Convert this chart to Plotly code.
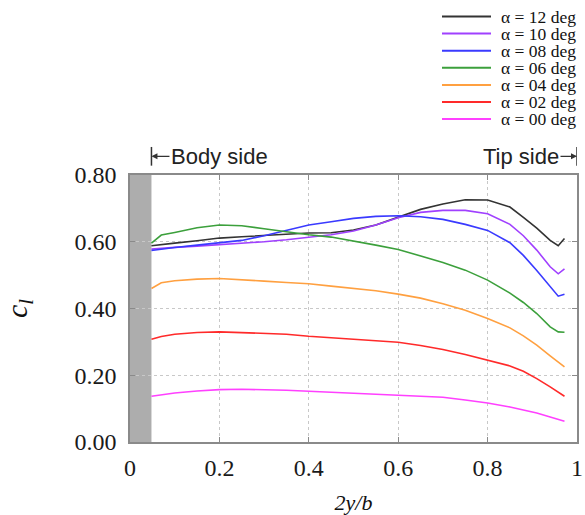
import plotly.graph_objects as go

span = [0.048, 0.07, 0.1, 0.15, 0.2, 0.25, 0.3, 0.35, 0.4, 0.45, 0.5, 0.55,
        0.6, 0.65, 0.7, 0.75, 0.8, 0.85, 0.88, 0.91, 0.94, 0.958, 0.972]

cl_12 = [0.588, 0.592, 0.596, 0.603, 0.611, 0.615, 0.619, 0.624, 0.626, 0.627, 0.635, 0.650,
         0.673, 0.697, 0.713, 0.726, 0.725, 0.704, 0.673, 0.641, 0.604, 0.588, 0.610]
cl_10 = [0.578, 0.581, 0.583, 0.587, 0.591, 0.596, 0.600, 0.606, 0.613, 0.621, 0.632, 0.650,
         0.672, 0.688, 0.694, 0.694, 0.684, 0.652, 0.618, 0.575, 0.525, 0.504, 0.519]
cl_08 = [0.574, 0.578, 0.583, 0.590, 0.596, 0.604, 0.618, 0.635, 0.650, 0.660, 0.670, 0.676,
         0.678, 0.675, 0.667, 0.652, 0.634, 0.597, 0.559, 0.514, 0.465, 0.437, 0.443]
cl_06 = [0.596, 0.620, 0.628, 0.642, 0.650, 0.648, 0.639, 0.629, 0.621, 0.614, 0.603, 0.590,
         0.577, 0.558, 0.538, 0.515, 0.485, 0.446, 0.418, 0.385, 0.345, 0.330, 0.329]
cl_04 = [0.460, 0.477, 0.483, 0.488, 0.490, 0.487, 0.482, 0.478, 0.474, 0.467, 0.461, 0.453,
         0.443, 0.431, 0.414, 0.395, 0.370, 0.342, 0.318, 0.290, 0.258, 0.238, 0.225]
cl_02 = [0.308, 0.316, 0.323, 0.328, 0.330, 0.328, 0.326, 0.323, 0.317, 0.313, 0.308, 0.304,
         0.299, 0.289, 0.277, 0.262, 0.246, 0.228, 0.212, 0.190, 0.165, 0.150, 0.137]
cl_00 = [0.137, 0.142, 0.147, 0.153, 0.157, 0.158, 0.157, 0.155, 0.152, 0.149, 0.147, 0.145,
         0.142, 0.139, 0.134, 0.126, 0.117, 0.105, 0.097, 0.087, 0.075, 0.068, 0.062]

series_names = ["α = 12 deg", "α = 10 deg", "α = 08 deg", "α = 06 deg",
                "α = 04 deg", "α = 02 deg", "α = 00 deg"]
series_values = [cl_12, cl_10, cl_08, cl_06, cl_04, cl_02, cl_00]
series_colors = ["#333333", "#a040ff", "#3a3aff", "#3ca03c", "#ffa040", "#ff2a2a", "#ff40ff"]

x_ticks = [0, 0.2, 0.4, 0.6, 0.8, 1]
x_tick_labels = ["0", "0.2", "0.4", "0.6", "0.8", "1"]
y_ticks = [0, 0.2, 0.4, 0.6, 0.8]
y_tick_labels = ["0.00", "0.20", "0.40", "0.60", "0.80"]
body_edge = 0.048

W, H = 585, 515
ML, MR, MT, MB = 130, 8, 175, 73
PW, PH = W - ML - MR, H - MT - MB


def px_to_paper(px, py):
    return (px - ML) / PW, (H - MB - py) / PH


fig = go.Figure()
for name, vals, col in zip(series_names, series_values, series_colors):
    fig.add_trace(go.Scatter(x=span, y=vals, mode="lines", name=name, showlegend=False,
                             line=dict(color=col, width=1.6)))

fig.add_shape(type="rect", xref="x", yref="y", x0=0, x1=body_edge, y0=0, y1=0.8,
              fillcolor="#adadad", line=dict(width=0), layer="below")

# hand-made legend (compact spacing as in the reference)
LEG_X0, LEG_X1, LEG_TX, LEG_Y0, LEG_DY = 442, 491, 499, 16.5, 17.1
for i, (name, col) in enumerate(zip(series_names, series_colors)):
    py = LEG_Y0 + i * LEG_DY
    xa, ya = px_to_paper(LEG_X0, py)
    xb, _ = px_to_paper(LEG_X1, py)
    xt, _ = px_to_paper(LEG_TX, py)
    fig.add_shape(type="line", xref="paper", yref="paper", x0=xa, x1=xb, y0=ya, y1=ya,
                  line=dict(color=col, width=2))
    fig.add_annotation(x=xt, y=ya, xref="paper", yref="paper", text=name, showarrow=False,
                       xanchor="left", yanchor="middle",
                       font=dict(family="Liberation Serif", size=17.5, color="#111111"))

# Body side / Tip side markers
fig.add_shape(type="line", xref="x", yref="paper", x0=body_edge, x1=body_edge,
              y0=1.035, y1=1.105, line=dict(color="#333333", width=1.5))
fig.add_shape(type="line", xref="x", yref="paper", x0=1.0, x1=1.0,
              y0=1.035, y1=1.105, line=dict(color="#333333", width=1.5))
fig.add_annotation(x=body_edge, y=1.07, xref="x", yref="paper", text="Body side",
                   showarrow=True, ax=68, ay=0, arrowhead=2, arrowsize=1, arrowwidth=1.2,
                   arrowcolor="#333333", standoff=0,
                   font=dict(family="Liberation Sans", size=22, color="#222222"))
fig.add_annotation(x=1.0, y=1.07, xref="x", yref="paper", text="Tip side",
                   showarrow=True, ax=-56, ay=0, arrowhead=2, arrowsize=1, arrowwidth=1.2,
                   arrowcolor="#333333", standoff=0,
                   font=dict(family="Liberation Sans", size=22, color="#222222"))

axis_common = dict(showline=True, linecolor="#8a8a8a", linewidth=1.5, mirror="ticks",
                   ticks="inside", ticklen=5, tickcolor="#8a8a8a",
                   showgrid=True, gridcolor="#c8c8c8", griddash="dot", gridwidth=1,
                   zeroline=False, ticklabeloverflow="allow", automargin=False,
                   tickfont=dict(family="Liberation Serif", size=24, color="#1a1a1a"))

fig.update_xaxes(range=[0, 1.0], tickvals=x_ticks, ticktext=x_tick_labels,
                 title=dict(text="<i>2y/b</i>", standoff=22,
                            font=dict(family="Liberation Serif", size=22, color="#111111")),
                 ticklabelstandoff=3, **axis_common)
fig.update_yaxes(range=[0, 0.8], tickvals=y_ticks, ticktext=y_tick_labels,
                 title=dict(text="<i>c<sub>l</sub></i>", standoff=46,
                            font=dict(family="Liberation Serif", size=30, color="#111111")),
                 ticklabelstandoff=7, **axis_common)

fig.update_layout(
    width=W, height=H,
    margin=dict(l=ML, r=MR, t=MT, b=MB),
    paper_bgcolor="white", plot_bgcolor="white",
    showlegend=False,
)

fig.write_html("out.html", config={"displayModeBar": False},
               post_script="document.body.style.margin='0';")
